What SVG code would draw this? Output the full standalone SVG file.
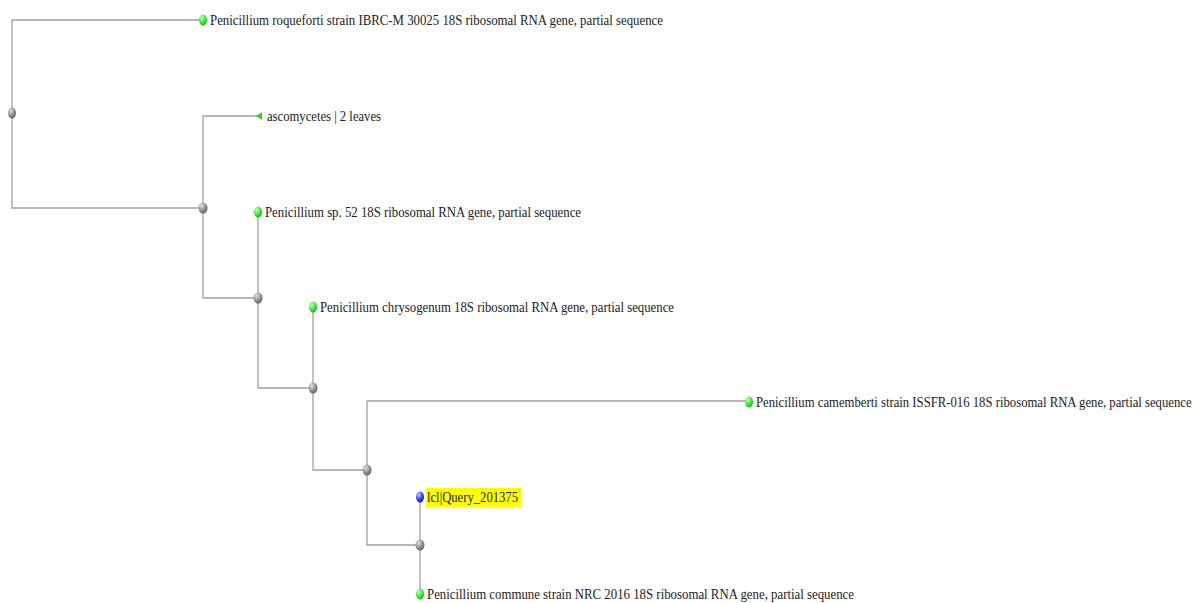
<svg xmlns="http://www.w3.org/2000/svg" width="1197" height="603" viewBox="0 0 1197 603">
<defs>
<radialGradient id="gGray" cx="0.35" cy="0.3" r="0.8"><stop offset="0" stop-color="#e0e0e0"/><stop offset="0.6" stop-color="#8a8a8a"/><stop offset="1" stop-color="#5a5a5a"/></radialGradient>
<radialGradient id="gGreen" cx="0.35" cy="0.3" r="0.8"><stop offset="0" stop-color="#c8ffc0"/><stop offset="0.55" stop-color="#33ee33"/><stop offset="1" stop-color="#11aa11"/></radialGradient>
<radialGradient id="gBlue" cx="0.35" cy="0.3" r="0.8"><stop offset="0" stop-color="#c8c8ff"/><stop offset="0.55" stop-color="#3344ee"/><stop offset="1" stop-color="#1111aa"/></radialGradient>
</defs>
<style>
.e{fill:none;stroke:#a0a0a0;stroke-width:1.3}
.n{fill:url(#gGray)}
.g{fill:url(#gGreen)}
.b{fill:url(#gBlue)}
.t{font-family:"Liberation Serif",serif;font-size:14.5px;fill:#222}
</style>
<rect width="1197" height="603" fill="#fff"/>
<g id="connectors">
<path class="e" d="M202,20H12V208H203"/>
<path class="e" d="M258,116H203V298H258"/>
<path class="e" d="M258,212V388H313"/>
<path class="e" d="M313,307V470H367"/>
<path class="e" d="M748,401H367V545H420"/>
<path class="e" d="M420,497V594"/>
</g>
<g id="root"><ellipse class="n" cx="12" cy="113" rx="4" ry="5.5"/></g>
<g id="n1"><ellipse class="n" cx="203" cy="208" rx="4.5" ry="5.5"/></g>
<g id="n2"><ellipse class="n" cx="258" cy="298" rx="4.5" ry="5.5"/></g>
<g id="n3"><ellipse class="n" cx="313" cy="388" rx="4.5" ry="5.5"/></g>
<g id="n4"><ellipse class="n" cx="367" cy="470" rx="4.5" ry="5.5"/></g>
<g id="n5"><ellipse class="n" cx="420" cy="545" rx="4.5" ry="5.5"/></g>
<g id="leaf-roqueforti"><ellipse class="g" cx="203" cy="20" rx="4" ry="5.5"/><text class="t" x="210" y="25" textLength="453" lengthAdjust="spacingAndGlyphs">Penicillium roqueforti strain IBRC-M 30025 18S ribosomal RNA gene, partial sequence</text></g>
<g id="leaf-ascomycetes"><polygon points="256,116 262,112 262,120" fill="#22dd22"/><text class="t" x="267" y="121" textLength="114" lengthAdjust="spacingAndGlyphs">ascomycetes | 2 leaves</text></g>
<g id="leaf-sp52"><ellipse class="g" cx="258" cy="212" rx="4" ry="5.5"/><text class="t" x="265" y="217" textLength="316" lengthAdjust="spacingAndGlyphs">Penicillium sp. 52 18S ribosomal RNA gene, partial sequence</text></g>
<g id="leaf-chrysogenum"><ellipse class="g" cx="313" cy="307" rx="4" ry="5.5"/><text class="t" x="320" y="312" textLength="354" lengthAdjust="spacingAndGlyphs">Penicillium chrysogenum 18S ribosomal RNA gene, partial sequence</text></g>
<g id="leaf-camemberti"><ellipse class="g" cx="749" cy="402" rx="4" ry="5.5"/><text class="t" transform="translate(756,407) scale(0.88,1)" x="0" y="0" textLength="495" lengthAdjust="spacingAndGlyphs">Penicillium camemberti strain ISSFR-016 18S ribosomal RNA gene, partial sequence</text></g>
<g id="leaf-query"><rect x="426" y="488" width="95" height="19" fill="#ffff00"/><ellipse class="b" cx="420" cy="497" rx="4" ry="5.5"/><text class="t" x="427" y="502" textLength="91" lengthAdjust="spacingAndGlyphs">lcl|Query_201375</text></g>
<g id="leaf-commune"><ellipse class="g" cx="420" cy="594" rx="4" ry="5.5"/><text class="t" x="427" y="599" textLength="427" lengthAdjust="spacingAndGlyphs">Penicillium commune strain NRC 2016 18S ribosomal RNA gene, partial sequence</text></g>
</svg>
